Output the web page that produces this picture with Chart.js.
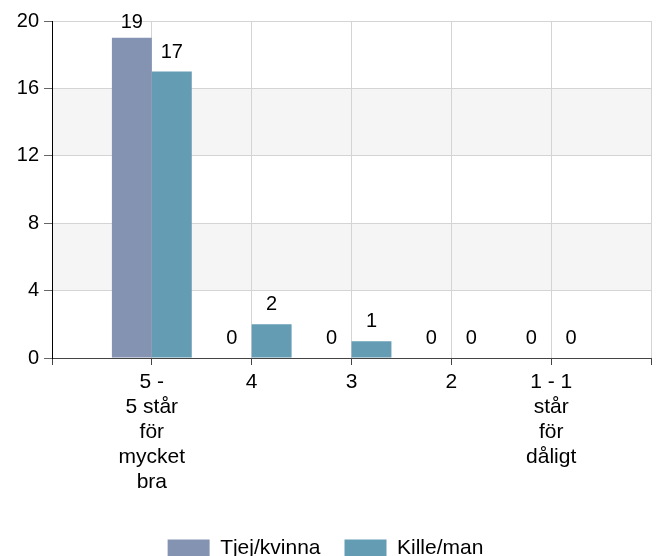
<!DOCTYPE html>
<html>
<head>
<meta charset="utf-8">
<script src="https://cdn.jsdelivr.net/npm/chart.js@4/dist/chart.umd.min.js"></script>
<style>
  html, body { margin: 0; padding: 0; background: #fff; overflow: hidden; }
  #wrap { width: 657px; height: 556px; overflow: hidden; }
  canvas { display: block; }
</style>
</head>
<body>
<div id="wrap"><canvas id="c" width="657" height="569"></canvas></div>
<script>
// ---- data ----
const categories = [
  ['5 -', '5 står', 'för', 'mycket', 'bra'],
  '4',
  '3',
  '2',
  ['1 - 1', 'står', 'för', 'dåligt']
];
const seriesNames = ['Tjej/kvinna', 'Kille/man'];
const tjejValues = [19, 0, 0, 0, 0];
const killeValues = [17, 2, 1, 0, 0];
const yTicks = [0, 4, 8, 12, 16, 20];

// ---- build ----
const labels = [''].concat(categories, ['']);
const pad = arr => [null].concat(arr, [null]);
const FONT = "'Liberation Sans', Arial, sans-serif";
Chart.defaults.font.family = FONT;
Chart.defaults.color = '#000';

const bandPlugin = {
  id: 'bands',
  beforeDraw(chart) {
    const {ctx, chartArea, scales} = chart;
    const y = scales.y;
    const t = y.ticks.map(k => k.value);
    ctx.save();
    ctx.fillStyle = '#f5f5f5';
    for (let i = 1; i + 1 < t.length; i += 2) {
      const top = y.getPixelForValue(t[i + 1]);
      const bot = y.getPixelForValue(t[i]);
      ctx.fillRect(chartArea.left, top, chartArea.right - chartArea.left, bot - top);
    }
    ctx.restore();
  }
};

const valueLabelPlugin = {
  id: 'valueLabels',
  afterDatasetsDraw(chart) {
    const {ctx} = chart;
    ctx.save();
    ctx.font = '20px ' + FONT;
    ctx.fillStyle = '#000';
    ctx.textAlign = 'center';
    ctx.textBaseline = 'alphabetic';
    chart.data.datasets.forEach((ds, di) => {
      const meta = chart.getDatasetMeta(di);
      meta.data.forEach((el, i) => {
        const v = ds.data[i];
        if (v === null || v === undefined) return;
        const yy = Math.max(el.y - 14, 28);
        ctx.fillText(String(v), el.x, yy);
      });
    });
    ctx.restore();
  }
};

new Chart(document.getElementById('c'), {
  type: 'bar',
  data: {
    labels: labels,
    datasets: [
      { label: seriesNames[0], data: pad(tjejValues), backgroundColor: '#8593b3',
        categoryPercentage: 0.8, barPercentage: 1.0 },
      { label: seriesNames[1], data: pad(killeValues), backgroundColor: '#639cb3',
        categoryPercentage: 0.8, barPercentage: 1.0 }
    ]
  },
  options: {
    responsive: false,
    animation: false,
    layout: { padding: { top: 21, right: 6, left: 0, bottom: 0 } },
    plugins: {
      tooltip: { enabled: false },
      legend: {
        position: 'bottom',
        labels: {
          boxWidth: 42,
          boxHeight: 18,
          padding: 24,
          color: '#000',
          font: { size: 21, family: FONT }
        }
      }
    },
    scales: {
      x: {
        offset: false,
        grid: { offset: false, color: '#d4d4d4', tickColor: '#444', tickLength: 7, drawTicks: true },
        border: { color: '#444', width: 1 },
        ticks: {
          autoSkip: false, maxRotation: 0, minRotation: 0, padding: 5,
          color: '#000',
          font: { size: 21, family: FONT, lineHeight: 1.19 }
        },
        afterFit(scale) { scale.height = 156; }
      },
      y: {
        min: 0, max: 20,
        afterBuildTicks(scale) { scale.ticks = yTicks.map(v => ({ value: v })); },
        grid: { color: '#d4d4d4', tickColor: '#666', tickLength: 8 },
        border: { color: '#000', width: 1 },
        ticks: { padding: 5, color: '#000', font: { size: 20, family: FONT } },
        afterFit(scale) { scale.width = 52; }
      }
    }
  },
  plugins: [bandPlugin, valueLabelPlugin]
});
</script>
</body>
</html>
